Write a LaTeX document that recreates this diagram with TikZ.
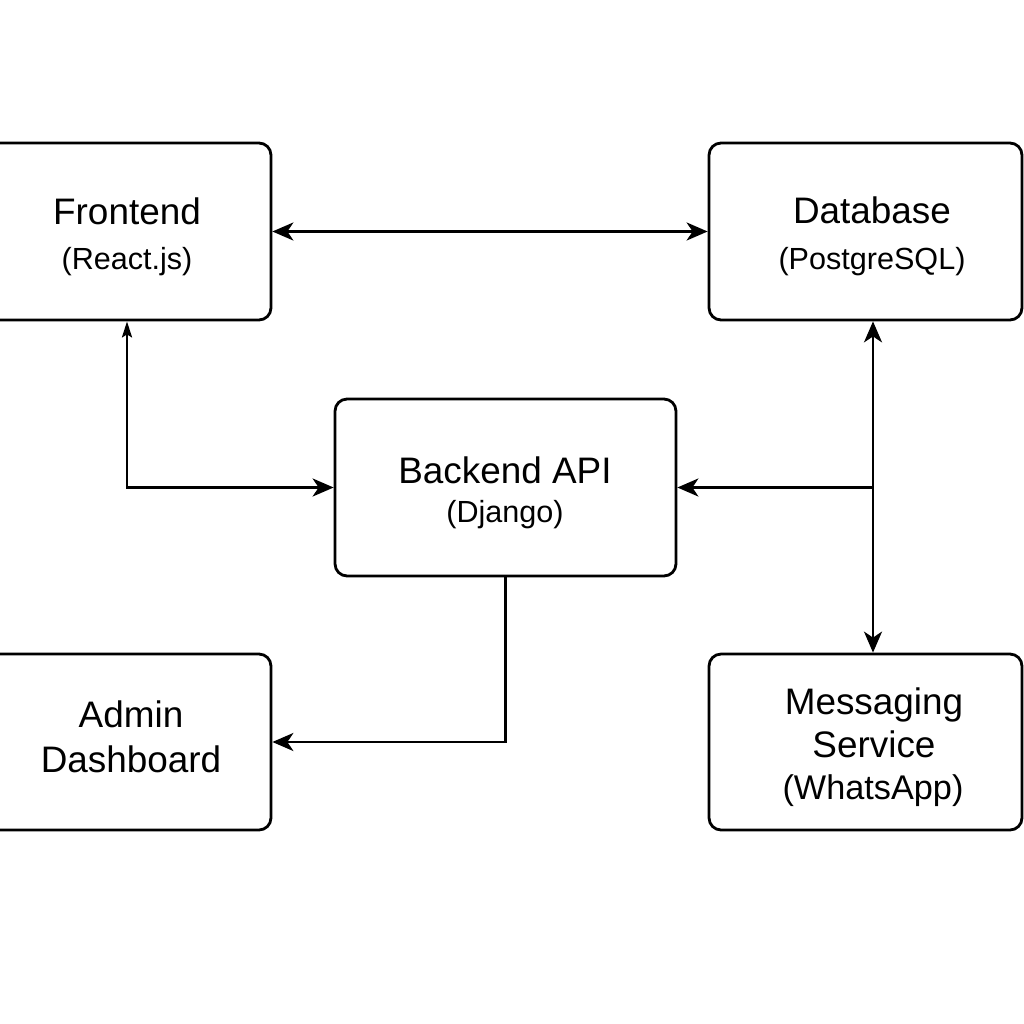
\documentclass[tikz,border=0pt]{standalone}
\usepackage{fontspec}
\setmainfont{Liberation Sans}
\usetikzlibrary{arrows.meta}
\begin{document}
\begin{tikzpicture}[x=0.02cm,y=-0.02cm,
  box/.style={draw, line width=1.6pt, rounded corners=0.24cm, inner sep=0pt, minimum height=3.54cm},
  lbl/.style={anchor=base, inner sep=0pt},
  mainf/.style={font=\fontsize{21}{25}\selectfont},
  subf/.style={font=\fontsize{17.4}{21}\selectfont},
  conn/.style={line width=1.5pt, >={Stealth[length=0.42cm,width=0.36cm,inset=0.12cm]}},
  smalltip/.style={{Stealth[length=0.32cm,width=0.2cm,inset=0.06cm]}-{Stealth[length=0.42cm,width=0.36cm,inset=0.12cm]}},
]
\useasboundingbox (0,0) rectangle (1024,1024);
% boxes
\node[box, minimum width=6.26cm] (fe) at (114.5,231.5) {};
\node[box, minimum width=6.26cm] (db) at (865.5,231.5) {};
\node[box, minimum width=6.82cm] (be) at (505.5,487.5) {};
\node[box, minimum width=6.26cm, minimum height=3.52cm] (ad) at (114.5,742) {};
\node[box, minimum width=6.26cm, minimum height=3.52cm] (ms) at (865.5,742) {};
% labels
\node[lbl,mainf] (fe1) at (127,224) {Frontend};
\node[lbl,subf] (fe2) at (127,269) {(React.js)};
\node[lbl,mainf] (db1) at (872,223) {Database};
\node[lbl,subf] (db2) at (872,269) {(PostgreSQL)};
\node[lbl,mainf] (be1) at (505,483) {Backend API};
\node[lbl,subf] (be2) at (505,522) {(Django)};
\node[lbl,mainf] (ad1) at (131,727) {Admin};
\node[lbl,mainf] (ad2) at (131,772) {Dashboard};
\node[lbl,mainf] (ms1) at (874,714) {Messaging};
\node[lbl,mainf] (ms2) at (874,757) {Service};
\node[lbl,font=\fontsize{19.5}{23}\selectfont] (ms3) at (873,799) {(WhatsApp)};
% connectors
\draw[conn,<->] (fe.east) -- (db.west);
\draw[conn,smalltip] (127,0 |- fe.south) |- (be.west);
\draw[conn,<->] (873,0 |- db.south) -- (873,0 |- ms.north);
\draw[conn,->] (873,0 |- be.east) -- (be.east);
\draw[conn,->] (be.south) |- (ad.east);
\end{tikzpicture}
\end{document}
